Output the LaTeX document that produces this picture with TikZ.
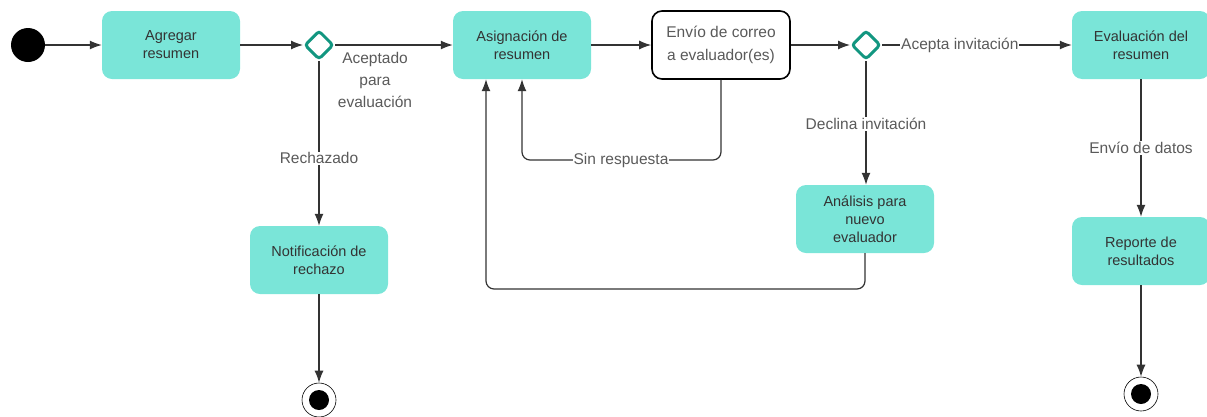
\documentclass[tikz,border=0pt]{standalone}
\usepackage{fontspec}
\setmainfont{Liberation Sans}
\usepackage{xcolor}
\usetikzlibrary{positioning,shapes.geometric,arrows.meta}
\definecolor{boxteal}{RGB}{122,229,216}
\definecolor{diamteal}{RGB}{18,150,128}
\definecolor{linegray}{RGB}{51,51,51}
\definecolor{textgray}{RGB}{90,90,90}

\tikzset{
  actbox/.style={fill=boxteal, rounded corners=10pt, minimum width=138pt, minimum height=68pt,
    align=center, text=linegray, font=\fontsize{14.5}{18}\selectfont},
  mailbox/.style={draw=black, line width=1.6pt, fill=white, rounded corners=10pt, minimum width=138pt,
    minimum height=68pt, align=center, text=textgray, font=\fontsize{15.5}{23}\selectfont},
  decision/.style={diamond, draw=diamteal, line width=3pt, fill=white, rounded corners=3pt,
    minimum size=29pt, inner sep=0pt},
  flow/.style={-{Latex[length=12pt,width=9pt]}, draw=linegray, line width=1.2pt},
  lbl/.style={fill=white, text=textgray, inner sep=1pt, align=center, font=\fontsize{15.5}{22}\selectfont},
  endnode/.style={circle, draw=black, line width=0.6pt, fill=white, minimum size=34pt, inner sep=0pt}
}

\begin{document}
\begin{tikzpicture}[x=1pt, y=-1pt]
\useasboundingbox (0,0) rectangle (1207,416);

% nodes
\node[circle, fill=black, minimum size=34pt, inner sep=0pt] (start) at (28,45) {};
\node[actbox] (agregar) at (171,45) {Agregar\\resumen};
\node[decision] (dec1) at (319,45) {};
\node[actbox] (asignacion) at (522,45) {Asignación de\\resumen};
\node[mailbox] (correo) at (721,45) {Envío de correo\\a evaluador(es)};
\node[decision] (dec2) at (866,45) {};
\node[actbox] (evaluacion) at (1141,45) {Evaluación del\\resumen};
\node[actbox] (rechazo) at (319,260) {Notificación de\\rechazo};
\node[actbox] (analisis) at (865,219) {Análisis para\\nuevo\\evaluador};
\node[actbox] (reporte) at (1141,251) {Reporte de\\resultados};
\node[endnode] (fin1) at (319,400) {};
\fill[black] (fin1.center) circle (10pt);
\node[endnode] (fin2) at (1141,394) {};
\fill[black] (fin2.center) circle (10pt);

% flujo principal
\draw[flow] (start) -- (agregar);
\draw[flow] (agregar) -- (dec1);
\draw[flow] (dec1) -- (asignacion);
\node[lbl] (lblaceptado) at (375,80) {Aceptado\\para\\evaluación};
\draw[flow] (dec1) -- node[lbl, pos=0.59] (lblrechazado) {Rechazado} (rechazo);
\draw[flow] (rechazo) -- (fin1);
\draw[flow] (asignacion) -- (correo);
\draw[flow] (correo) -- (dec2);
\draw[flow] (dec2) -- node[lbl, pos=0.41] (lblacepta) {Acepta invitación} (evaluacion);
\draw[flow] (dec2) -- node[lbl, pos=0.51] (lbldeclina) {Declina invitación} (dec2 |- analisis.north);
\draw[flow] (evaluacion) -- node[lbl, pos=0.5] (lbldatos) {Envío de datos} (reporte);
\draw[flow] (reporte) -- (fin2);

% retornos
\coordinate (sinresp) at (621,160);
\draw[flow, rounded corners=8pt] (correo.south) |- (sinresp) -| (asignacion.south);
\node[lbl] (lblsinresp) at (sinresp) {Sin respuesta};
\coordinate (retorno) at (675,289);
\draw[flow, rounded corners=8pt] (analisis.south) |- (retorno) -| ([xshift=-36pt]asignacion.south);
\end{tikzpicture}
\end{document}
